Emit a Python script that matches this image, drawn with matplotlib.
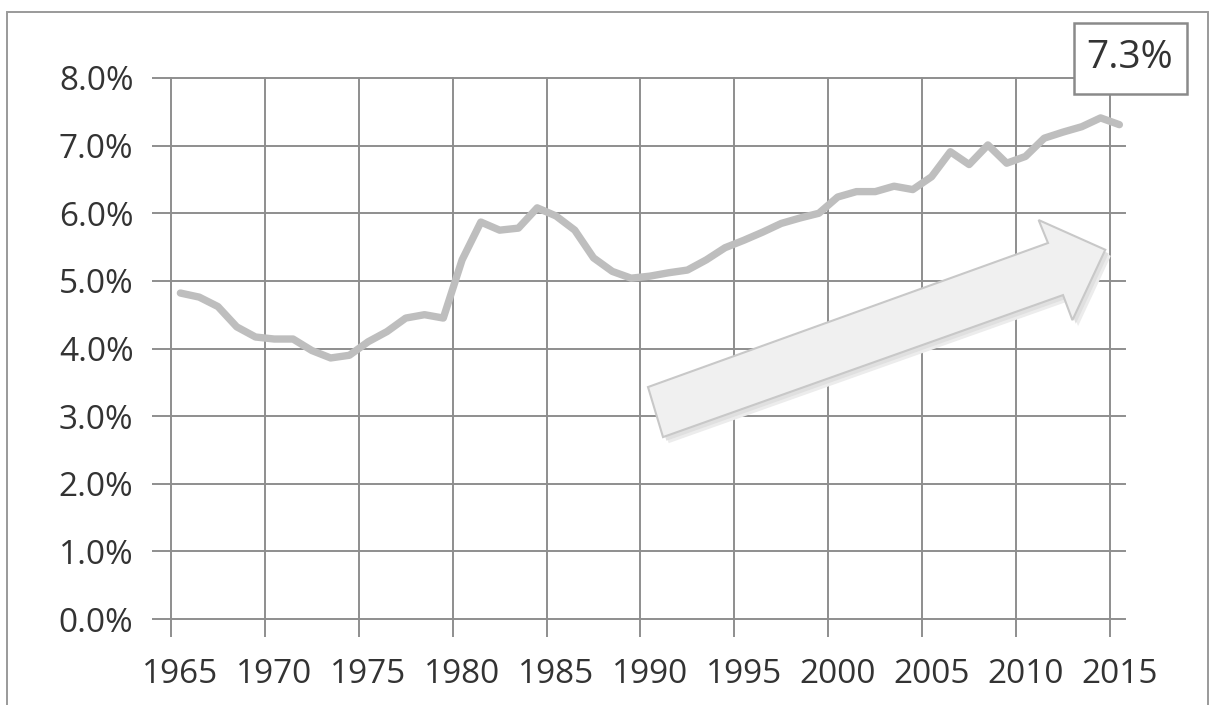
import matplotlib
matplotlib.use("Agg")
import matplotlib.pyplot as plt
from matplotlib.patches import Polygon, Rectangle

# share of value, 1965-2015
years = list(range(1965, 2016))
share = [
    4.82, 4.76, 4.62, 4.32, 4.17, 4.14, 4.14, 3.97, 3.86, 3.90,  # 1965-1974
    4.10, 4.25, 4.45, 4.50, 4.45, 5.31, 5.87, 5.75, 5.78, 6.08,  # 1975-1984
    5.96, 5.75, 5.34, 5.14, 5.04, 5.07, 5.12, 5.16, 5.31, 5.49,  # 1985-1994
    5.60, 5.72, 5.85, 5.93, 6.00, 6.24, 6.32, 6.32, 6.40, 6.35,  # 1995-2004
    6.54, 6.91, 6.72, 7.01, 6.74, 6.84, 7.11, 7.20, 7.28, 7.41,  # 2005-2014
    7.31,                                                        # 2015
]
yticks = [0, 1, 2, 3, 4, 5, 6, 7, 8]
xlabel_years = years[::5]
callout = "7.3%"

GRID = "#8e8e8e"
LINE = "#bebebe"
TEXT = "#333333"

plt.rcParams["font.family"] = ["Open Sans", "DejaVu Sans"]

fig = plt.figure(figsize=(12.11, 7.05), dpi=100)
fig.patch.set_facecolor("white")
ax = fig.add_axes([171 / 1211, 86 / 705, 954 / 1211, 541 / 705])

ax.plot(years, share, color=LINE, linewidth=5.3, solid_capstyle="round",
        solid_joinstyle="round", zorder=3)

ax.set_xlim(1964.5, 2015.3)
ax.set_ylim(0, 8)

# category-style axis: gridlines between categories, labels on categories
ax.set_xticks(xlabel_years)
ax.set_xticklabels([str(y) for y in xlabel_years])
ax.set_xticks([y - 0.5 for y in xlabel_years], minor=True)
ax.set_yticks(yticks)
ax.set_yticklabels([f"{v:.1f}%" for v in yticks])

ax.tick_params(axis="x", which="major", length=0, pad=28, labelsize=24,
               labelcolor=TEXT)
ax.tick_params(axis="x", which="minor", length=13, width=1.4, color=GRID,
               direction="out")
ax.tick_params(axis="y", length=14, width=1.4, color=GRID, pad=13,
               labelsize=24, labelcolor=TEXT)

ax.grid(False)
ax.grid(True, axis="x", which="minor", color=GRID, linewidth=1.4)
ax.grid(True, axis="y", which="major", color=GRID, linewidth=1.4)
for t in ax.xaxis.get_minor_ticks() + ax.yaxis.get_major_ticks():
    t.gridline.set_clip_on(False)
for s in ax.spines.values():
    s.set_visible(False)
ax.set_axisbelow(True)

# big rising arrow (decoration) with a soft shadow
arrow_pts = [(1989.9, 3.43), (2011.2, 5.56), (2010.7, 5.90), (2014.25, 5.46),
             (2012.5, 4.42), (2012.0, 4.79), (1990.7, 2.69)]
for off, col in [(0.30, "#ececec"), (0.18, "#e0e0e0")]:
    ax.add_patch(Polygon([(x + off, y - off * 0.3) for x, y in arrow_pts],
                         closed=True, facecolor=col, edgecolor="none", zorder=4))
ax.add_patch(Polygon(arrow_pts, closed=True, facecolor="#f0f0f0",
                     edgecolor="#c8c8c8", linewidth=1.5, zorder=5))

# callout box with last value
fig.patches.append(Rectangle((1074 / 1211, 1 - 94 / 705), 113 / 1211, 71 / 705,
                             transform=fig.transFigure, facecolor="white",
                             edgecolor="#8a8a8a", linewidth=1.8, zorder=6))
fig.text(1130 / 1211, 1 - 58 / 705, callout, ha="center", va="center",
         fontsize=28, color=TEXT, zorder=7)

# outer chart frame
fig.patches.append(Rectangle((7 / 1211, -0.05), 1201 / 1211, 1 - 12 / 705 + 0.05,
                             transform=fig.transFigure, facecolor="none",
                             edgecolor="#9a9a9a", linewidth=1.4))

fig.savefig("out.png", dpi=100)
